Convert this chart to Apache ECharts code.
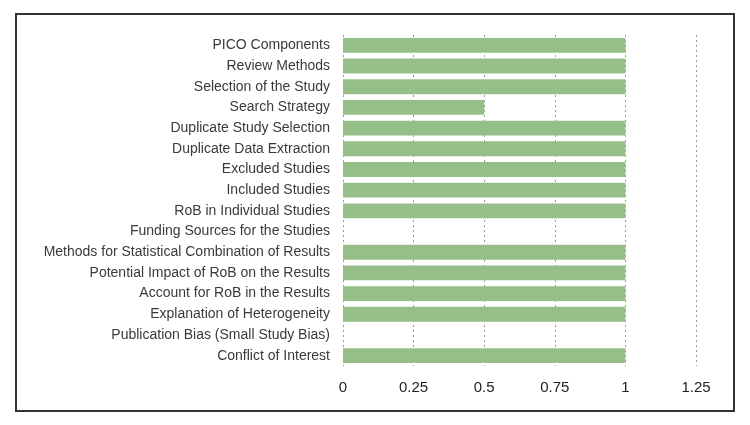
<!DOCTYPE html>
<html><head><meta charset="utf-8">
<script src="https://cdn.jsdelivr.net/npm/echarts@6/dist/echarts.min.js"></script>
<style>
html,body{margin:0;padding:0;background:#fff;}
#frame{position:absolute;left:15px;top:13px;width:716px;height:395px;border:2px solid #333;}
#c{position:absolute;left:0;top:0;width:750px;height:425px;}
</style></head>
<body>
<div id="frame"></div>
<div id="c"></div>
<script>
const categories = ["PICO Components","Review Methods","Selection of the Study","Search Strategy","Duplicate Study Selection","Duplicate Data Extraction","Excluded Studies","Included Studies","RoB in Individual Studies","Funding Sources for the Studies","Methods for Statistical Combination of Results","Potential Impact of RoB on the Results","Account for RoB in the Results","Explanation of Heterogeneity","Publication Bias (Small Study Bias)","Conflict of Interest"];
const values = [1,1,1,0.5,1,1,1,1,1,0,1,1,1,1,0,1];
const xTicks = [0,0.25,0.5,0.75,1,1.25];
const chart = echarts.init(document.getElementById('c'));
chart.setOption({
  animation:false,
  grid:{left:343,top:35,width:353,height:331,containLabel:false},
  xAxis:{type:'value',min:0,max:1.25,interval:0.25,
    axisLine:{show:false},axisTick:{show:false},
    axisLabel:{color:'#222',fontSize:15,margin:14,fontFamily:'Helvetica, Arial, sans-serif',formatter:v=>String(v)},
    splitLine:{show:true,lineStyle:{color:'#999',type:[2,3],width:1}}},
  yAxis:{type:'category',data:categories,inverse:true,
    axisLine:{show:false},axisTick:{show:false},
    axisLabel:{color:'#3a3a3a',fontSize:14,margin:13,fontFamily:'Helvetica, Arial, sans-serif'}},
  series:[{type:'bar',data:values,barWidth:'72%',itemStyle:{color:'#95bf87'}}]
});
</script>
</body></html>
